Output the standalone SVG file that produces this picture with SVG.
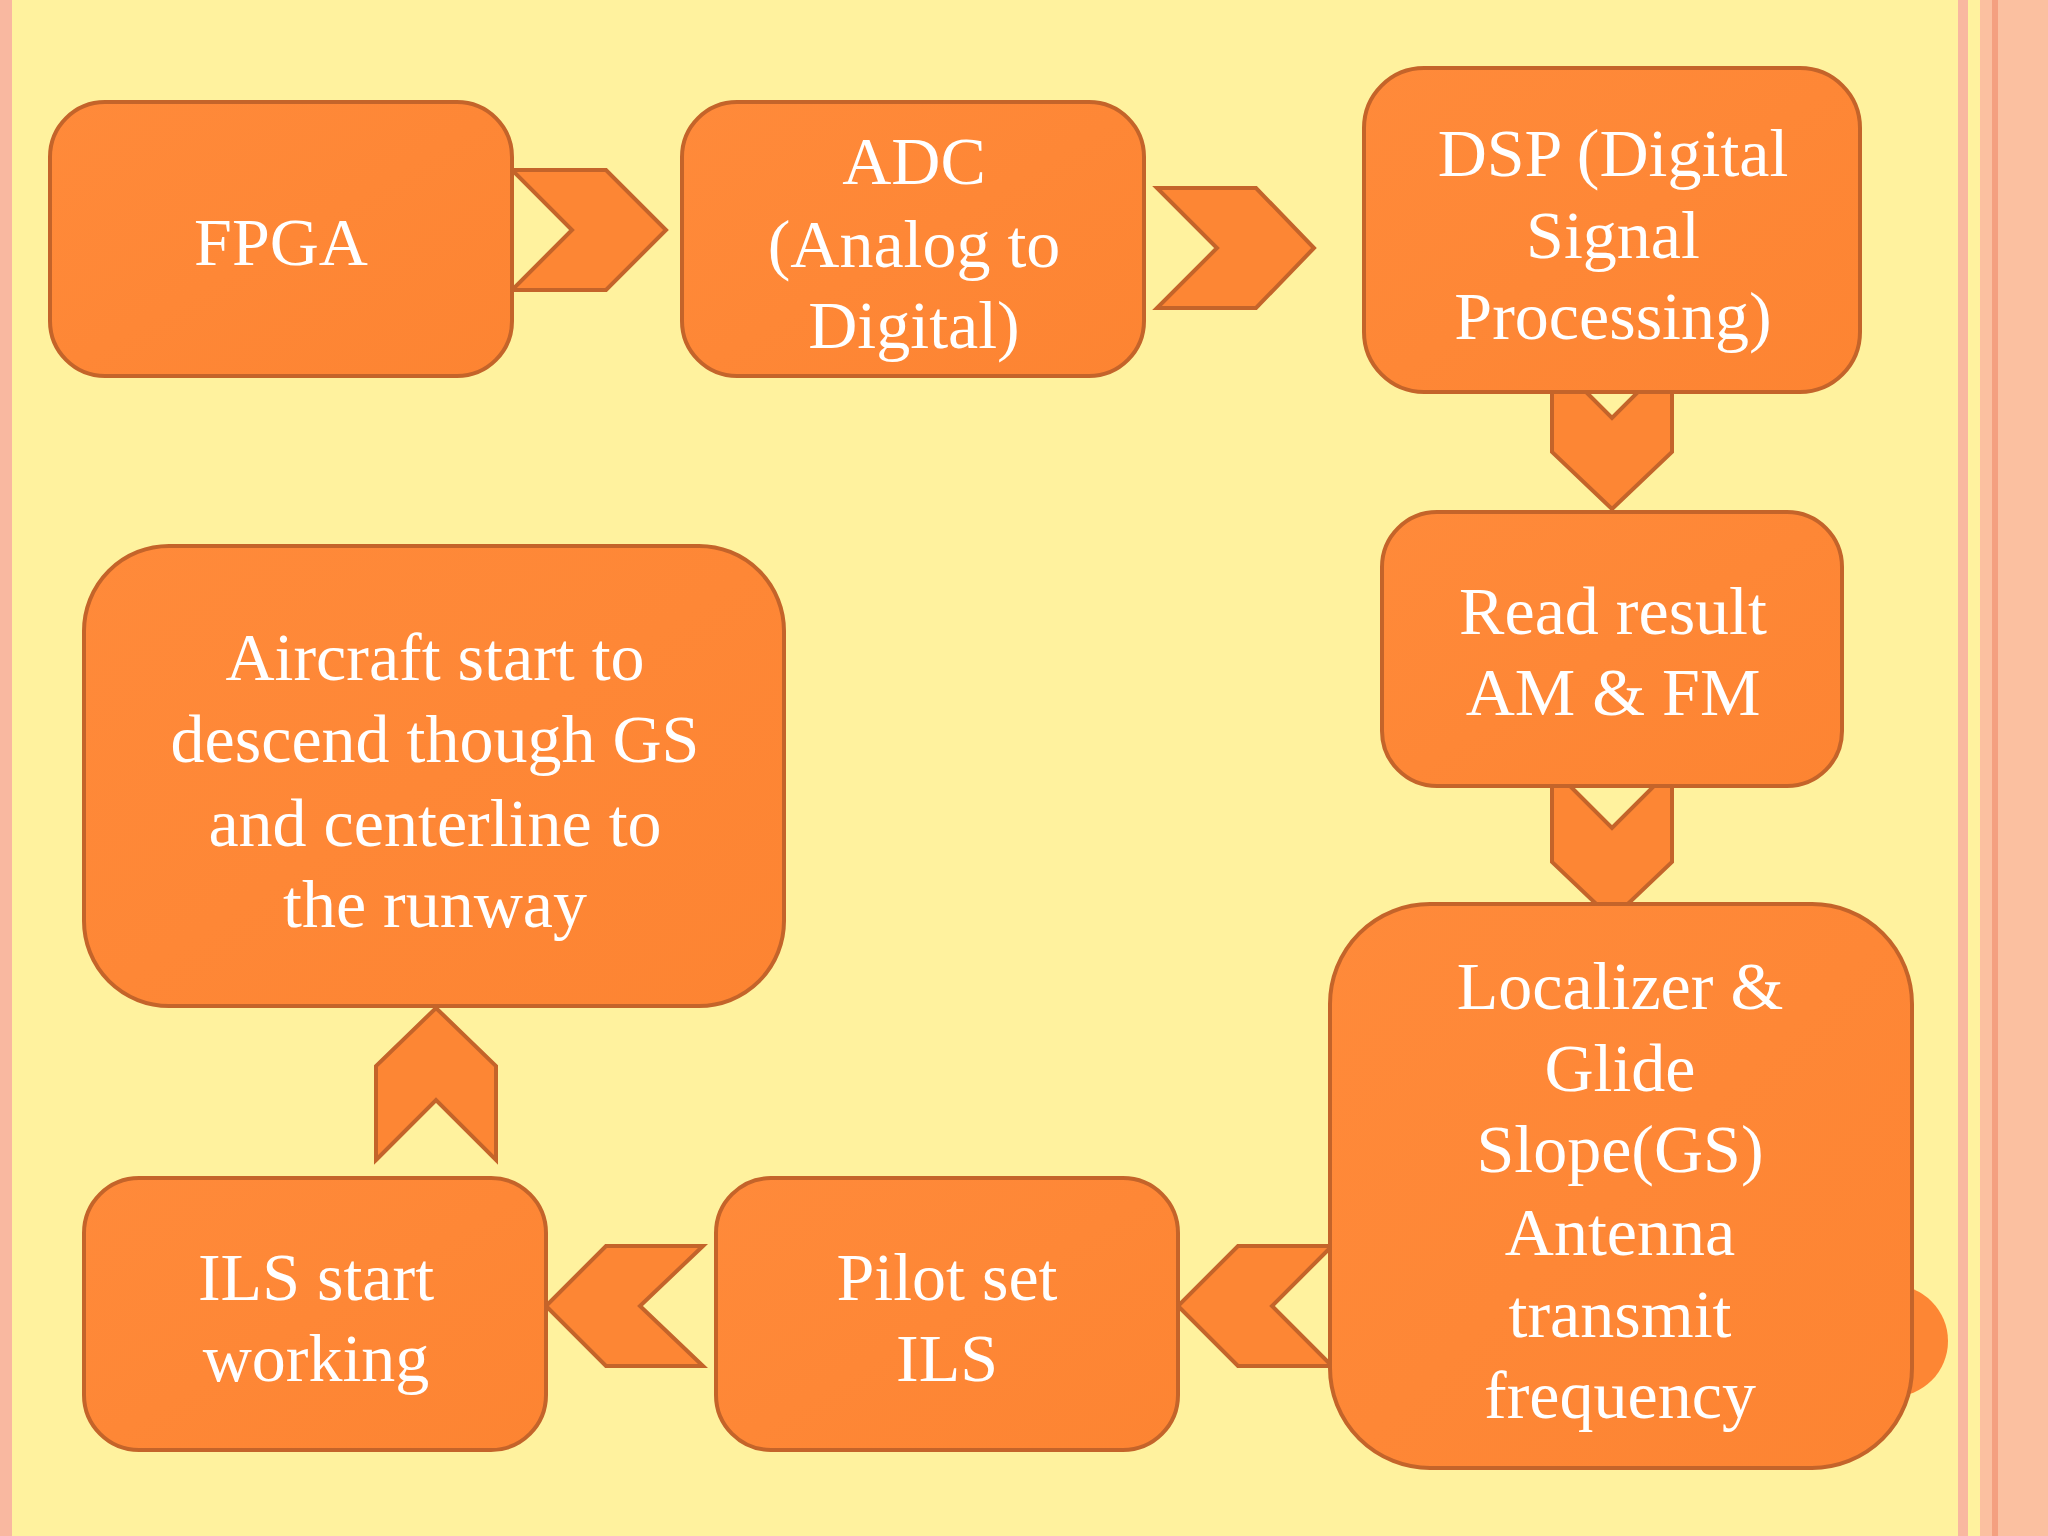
<svg xmlns="http://www.w3.org/2000/svg" width="2048" height="1536" viewBox="0 0 2048 1536">
<defs>
<linearGradient id="g" x1="0" y1="0" x2="1" y2="1"><stop offset="0" stop-color="#FF8A3A"/><stop offset="1" stop-color="#FD8432"/></linearGradient>
</defs>
<style>
.b{fill:url(#g);stroke:#C4642A;stroke-width:4}
.a{fill:#FD8634;stroke:#C4642A;stroke-width:4;stroke-linejoin:miter}
text{font-family:"Liberation Serif","Times New Roman",serif;font-size:68px;fill:#FFFFFF;text-anchor:middle}
</style>
<rect width="2048" height="1536" fill="#FFF29E"/>
<rect x="0" y="0" width="12" height="1536" fill="#F9B8A0"/>
<rect x="1958" y="0" width="10" height="1536" fill="#F9B8A0"/>
<rect x="1980" y="0" width="68" height="1536" fill="#FBC0A0"/>
<rect x="1992" y="0" width="6" height="1536" fill="#F4A080"/>
<circle cx="1892" cy="1341" r="56" fill="#FD8634"/>
<g id="connectors">
<polygon class="a" points="512,170 606,170 666,230 606,290 512,290 572,230"/>
<polygon class="a" points="1157,188 1256,188 1314,248 1256,308 1157,308 1217,248"/>
<polygon class="a" points="1552,358 1612,418 1672,358 1672,452 1612,509 1552,452"/>
<polygon class="a" points="1552,768 1612,828 1672,768 1672,862 1612,919 1552,862"/>
<polygon class="a" points="1332,1246 1272,1306 1332,1366 1238,1366 1178,1306 1238,1246"/>
<polygon class="a" points="703,1246 640,1306 703,1366 606,1366 546,1306 606,1246"/>
<polygon class="a" points="376,1160 436,1100 496,1160 496,1066 436,1008 376,1066"/>
</g>
<g id="fpga"><rect class="b" x="50" y="102" width="462" height="274" rx="55"/><text x="281" y="265">FPGA</text></g>
<g id="adc"><rect class="b" x="682" y="102" width="462" height="274" rx="55"/><text x="914" y="184">ADC</text><text x="914" y="267">(Analog to</text><text x="914" y="348">Digital)</text></g>
<g id="dsp"><rect class="b" x="1364" y="68" width="496" height="324" rx="60"/><text x="1613" y="176">DSP (Digital</text><text x="1613" y="258">Signal</text><text x="1613" y="339">Processing)</text></g>
<g id="read"><rect class="b" x="1382" y="512" width="460" height="274" rx="55"/><text x="1613" y="634">Read result</text><text x="1613" y="715">AM &amp; FM</text></g>
<g id="loc"><rect class="b" x="1330" y="904" width="582" height="564" rx="100"/><text x="1620" y="1009">Localizer &amp;</text><text x="1620" y="1091">Glide</text><text x="1620" y="1172">Slope(GS)</text><text x="1620" y="1255">Antenna</text><text x="1620" y="1337">transmit</text><text x="1620" y="1418">frequency</text></g>
<g id="pilot"><rect class="b" x="716" y="1178" width="462" height="272" rx="55"/><text x="947" y="1300">Pilot set</text><text x="947" y="1381">ILS</text></g>
<g id="ils"><rect class="b" x="84" y="1178" width="462" height="272" rx="55"/><text x="316" y="1300">ILS start</text><text x="316" y="1381">working</text></g>
<g id="aircraft"><rect class="b" x="84" y="546" width="700" height="460" rx="85"/><text x="435" y="680">Aircraft start to</text><text x="435" y="762">descend though GS</text><text x="435" y="846">and centerline to</text><text x="435" y="927">the runway</text></g>
</svg>
